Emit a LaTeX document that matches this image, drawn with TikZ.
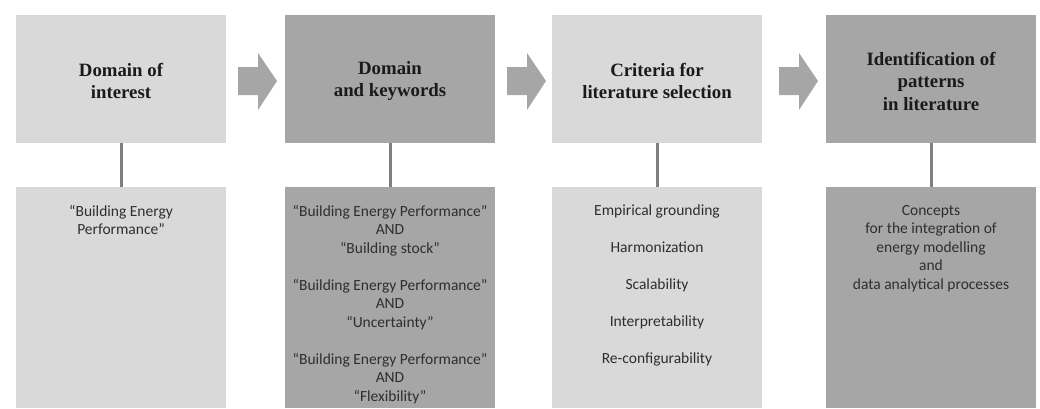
\documentclass[tikz,border=0pt]{standalone}
\usepackage{fontspec}
\setmainfont{Liberation Serif}
\newfontfamily\bodyfont{Carlito}
\usetikzlibrary{calc}
\definecolor{lightbox}{HTML}{D9D9D9}
\definecolor{darkbox}{HTML}{A6A6A6}
\definecolor{flowgray}{HTML}{A6A6A6}
\definecolor{linkgray}{HTML}{7F7F7F}
\definecolor{bodytext}{HTML}{2E2E2E}
\definecolor{headtext}{HTML}{1A1A1A}
\begin{document}
\begin{tikzpicture}[x=1pt,y=-1pt,
  headbox/.style={minimum width=210pt, minimum height=128pt, inner sep=0pt,
    align=center, font=\fontsize{18.8}{22.5}\selectfont\bfseries, text=headtext},
  headtxt/.style={inner sep=0pt, align=center,
    font=\fontsize{18.8}{22.5}\selectfont\bfseries, text=headtext},
  bodybox/.style={minimum width=210pt, minimum height=221pt, inner sep=0pt},
  bodytxt/.style={anchor=north, inner sep=0pt, align=center,
    font=\bodyfont\fontsize{15.5}{18.5}\selectfont, text=bodytext},
  link/.style={draw=linkgray, line width=3pt},
  flowarrow/.pic={\fill[flowgray] (0,67) -- (20,67) -- (20,53) -- (39,81)
    -- (20,110) -- (20,95) -- (0,95) -- cycle;}]
\useasboundingbox (0,0) rectangle (1040,408);

% step headers
\node[headbox, fill=lightbox] (h1) at (121,79) {};
\node[headbox, fill=darkbox]  (h2) at (390,79) {};
\node[headbox, fill=lightbox] (h3) at (657,79) {};
\node[headbox, fill=darkbox]  (h4) at (931,79) {};
\node[headtxt] (ht1) at ($(h1.center)+(0,2)$) {Domain of\\interest};
\node[headtxt] (ht2) at ($(h2.center)+(0,2)$) {Domain\\and keywords};
\node[headtxt] (ht3) at ($(h3.center)+(0,2)$) {Criteria for\\literature selection};
\node[headtxt] (ht4) at ($(h4.center)+(0,2)$) {Identification of\\patterns\\in literature};

% detail panels
\node[bodybox, fill=lightbox] (b1) at (121,297.5) {};
\node[bodybox, fill=darkbox]  (b2) at (390,297.5) {};
\node[bodybox, fill=lightbox] (b3) at (657,297.5) {};
\node[bodybox, fill=darkbox]  (b4) at (931,297.5) {};

\node[bodytxt] (t1) at ($(b1.north)+(0,18)$) {“Building Energy\\Performance”};
\node[bodytxt] (t2) at ($(b2.north)+(0,18)$) {“Building Energy Performance”\\AND\\“Building stock”\\[18.5pt]
  “Building Energy Performance”\\AND\\“Uncertainty”\\[18.5pt]
  “Building Energy Performance”\\AND\\“Flexibility”};
\node[bodytxt] (t3) at ($(b3.north)+(0,18)$) {Empirical grounding\\[18.5pt]Harmonization\\[18.5pt]Scalability\\[18.5pt]Interpretability\\[18.5pt]Re-configurability};
\node[bodytxt] (t4) at ($(b4.north)+(0,18)$) {Concepts\\for the integration of\\energy modelling\\and\\data analytical processes};

% links between header and panel
\draw[link] (h1.south) -- (b1.north);
\draw[link] (h2.south) -- (b2.north);
\draw[link] (h3.south) -- (b3.north);
\draw[link] (h4.south) -- (b4.north);

% flow arrows
\pic at (238,0) {flowarrow};
\pic at (507,0) {flowarrow};
\pic at (779,0) {flowarrow};
\end{tikzpicture}
\end{document}
